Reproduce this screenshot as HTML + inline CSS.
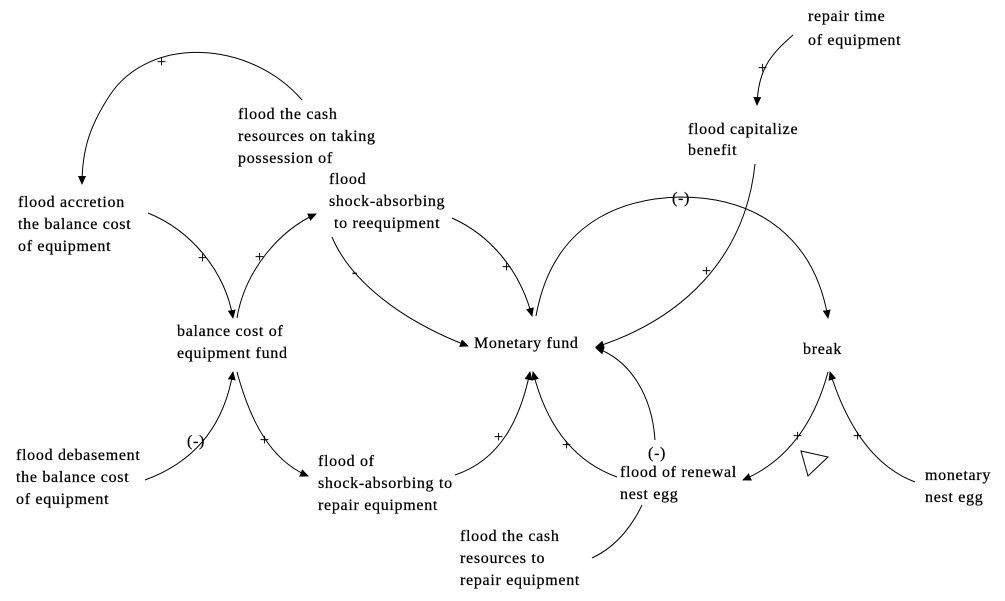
<!DOCTYPE html>
<html><head><meta charset="utf-8"><style>
html,body{margin:0;padding:0;background:#fff;}
svg{display:block;}
text{font-family:"Liberation Serif",serif;font-size:16px;letter-spacing:0.7px;fill:#000;stroke:#000;stroke-width:0.25px;}
path{fill:none;stroke:#000;stroke-width:1;}
</style></head><body>
<svg width="1005" height="601" viewBox="0 0 1005 601">
<defs><marker id="a" markerWidth="10" markerHeight="10" refX="8" refY="4" orient="auto" markerUnits="userSpaceOnUse"><path d="M0,0 L9,4 L0,8 Z" style="fill:#000;stroke:none"/></marker></defs>
<text x="808" y="21">repair time</text><text x="808" y="45">of equipment</text>
<text x="238" y="119">flood the cash</text><text x="238" y="141">resources on taking</text><text x="238" y="163">possession of</text>
<text x="329" y="184">flood</text><text x="329" y="206">shock-absorbing</text><text x="334" y="228">to reequipment</text>
<text x="688" y="134">flood capitalize</text><text x="688" y="155">benefit</text>
<text x="18" y="207">flood accretion</text><text x="18" y="229">the balance cost</text><text x="18" y="251">of equipment</text>
<text x="177" y="336">balance cost of</text><text x="177" y="358">equipment fund</text>
<text x="474" y="348">Monetary fund</text>
<text x="803" y="354">break</text>
<text x="16" y="460">flood debasement</text><text x="16" y="482">the balance cost</text><text x="16" y="504">of equipment</text>
<text x="318" y="466">flood of</text><text x="318" y="488">shock-absorbing to</text><text x="318" y="510">repair equipment</text>
<text x="620" y="477">flood of renewal</text><text x="620" y="499">nest egg</text>
<text x="925" y="480">monetary</text><text x="925" y="502">nest egg</text>
<text x="460" y="541">flood the cash</text><text x="460" y="563">resources to</text><text x="460" y="585">repair equipment</text>

<path d="M302,100 C250,40 150,35 110,95 C90,125 82,150 82,184" marker-end="url(#a)"/>
<path d="M148,213 C190,230 225,270 233,318" marker-end="url(#a)"/>
<path d="M237,318 C245,270 280,230 316,214" marker-end="url(#a)"/>
<path d="M332,237 C350,280 400,320 468,346" marker-end="url(#a)"/>
<path d="M452,218 C490,235 520,270 532,316" marker-end="url(#a)"/>
<path d="M536,316 C555,210 640,198 680,197 C760,197 815,240 828,318" marker-end="url(#a)"/>
<path d="M755,164 C745,260 680,320 596,347" marker-end="url(#a)"/>
<path d="M655,440 C652,395 630,360 596,348" marker-end="url(#a)"/>
<path d="M793,35 C770,55 758,70 757,105" marker-end="url(#a)"/>
<path d="M145,480 C200,460 225,420 233,372" marker-end="url(#a)"/>
<path d="M237,372 C250,420 270,460 308,476" marker-end="url(#a)"/>
<path d="M455,475 C500,460 520,420 530,372" marker-end="url(#a)"/>
<path d="M617,477 C570,460 545,420 533,372" marker-end="url(#a)"/>
<path d="M592,558 C620,545 635,520 642,505"/>
<path d="M828,372 C815,420 790,460 743,480" marker-end="url(#a)"/>
<path d="M915,482 C870,465 845,420 830,372" marker-end="url(#a)"/>
<path d="M801,451 L828,457 L808,476 Z"/>
<g style="font-size:13px">
<text x="157" y="67">+</text><text x="198" y="263">+</text><text x="255" y="262">+</text>
<text x="352" y="277">-</text><text x="502" y="272">+</text><text x="672" y="203">(-)</text>
<text x="702" y="276">+</text><text x="758" y="73">+</text><text x="648" y="458">(-)</text>
<text x="187" y="446">(-)</text><text x="260" y="445">+</text><text x="494" y="442">+</text>
<text x="562" y="450">+</text><text x="793" y="441">+</text><text x="853" y="441">+</text>
</g>
</svg>
</body></html>
